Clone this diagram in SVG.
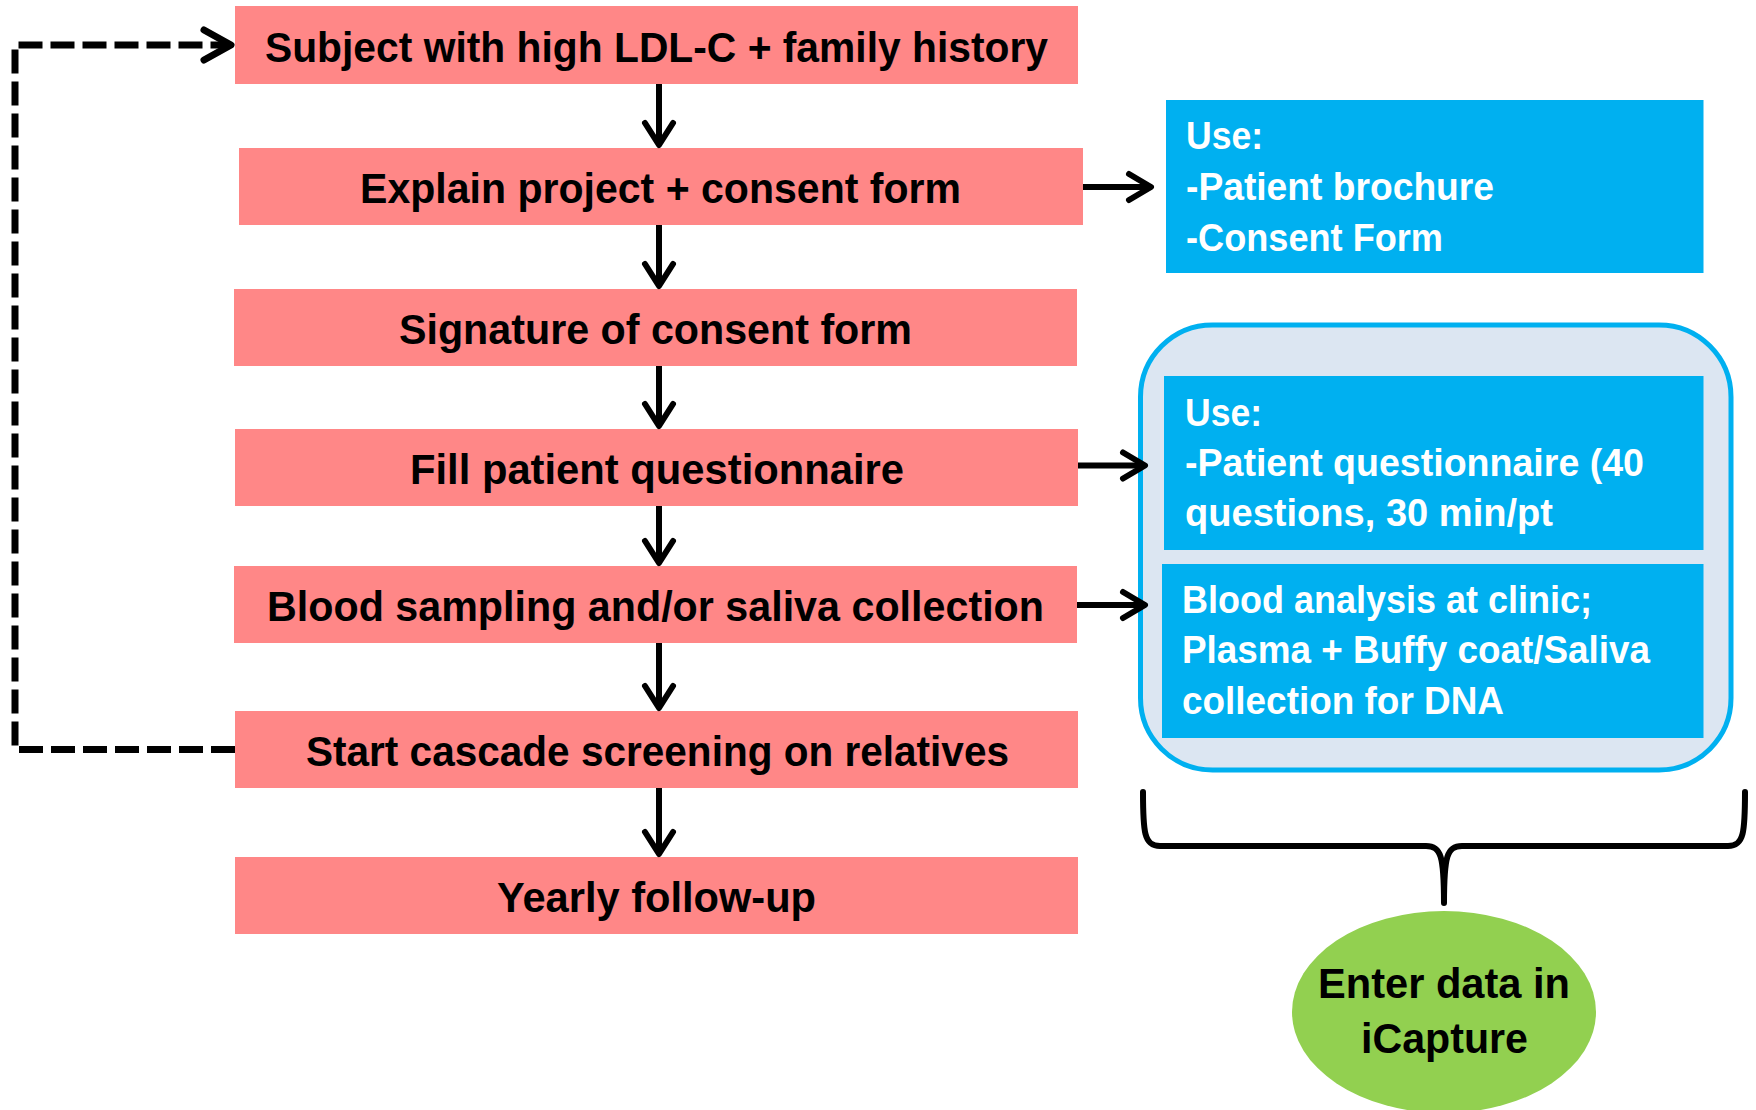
<svg xmlns="http://www.w3.org/2000/svg" width="1756" height="1110" viewBox="0 0 1756 1110">
<style>
.pink{fill:#FF8787;}
.blue{fill:#00B0F0;}
.pt{font-family:"Liberation Sans",Arial,sans-serif;font-weight:bold;font-size:43px;fill:#000;text-anchor:middle;}
.bt{font-family:"Liberation Sans",Arial,sans-serif;font-weight:bold;font-size:39px;fill:#fff;}
.ln{stroke:#000;stroke-width:6;fill:none;stroke-linecap:butt;}
.hd{stroke:#000;stroke-width:6;fill:none;stroke-linecap:round;stroke-linejoin:round;}
.dash{stroke:#000;stroke-width:7;fill:none;stroke-dasharray:24 8;}
</style>
<rect width="1756" height="1110" fill="#fff"/>

<g id="container">
<rect x="1140.5" y="325" width="590.5" height="445" rx="72" ry="72" fill="#DCE6F2" stroke="#00B0F0" stroke-width="5"/>
</g>

<g id="n1"><rect class="pink" x="235" y="6" width="843" height="78"/><text class="pt" x="656.5" y="61.5" textLength="783" lengthAdjust="spacingAndGlyphs">Subject with high LDL-C + family history</text></g>
<g id="n2"><rect class="pink" x="239" y="148" width="844" height="77"/><text class="pt" x="660.5" y="203" textLength="601" lengthAdjust="spacingAndGlyphs">Explain project + consent form</text></g>
<g id="n3"><rect class="pink" x="234" y="289" width="843" height="77"/><text class="pt" x="655.5" y="344" textLength="513" lengthAdjust="spacingAndGlyphs">Signature of consent form</text></g>
<g id="n4"><rect class="pink" x="235" y="429" width="843" height="77"/><text class="pt" x="657" y="484" textLength="494" lengthAdjust="spacingAndGlyphs">Fill patient questionnaire</text></g>
<g id="n5"><rect class="pink" x="234" y="566" width="843" height="77"/><text class="pt" x="655.5" y="621" textLength="777" lengthAdjust="spacingAndGlyphs">Blood sampling and/or saliva collection</text></g>
<g id="n6"><rect class="pink" x="235" y="711" width="843" height="77"/><text class="pt" x="657.5" y="766" textLength="703" lengthAdjust="spacingAndGlyphs">Start cascade screening on relatives</text></g>
<g id="n7"><rect class="pink" x="235" y="857" width="843" height="77"/><text class="pt" x="656.5" y="912" textLength="319" lengthAdjust="spacingAndGlyphs">Yearly follow-up</text></g>

<g id="b1"><rect class="blue" x="1166" y="100" width="537.5" height="173"/>
<text class="bt" x="1186" y="149" textLength="77" lengthAdjust="spacingAndGlyphs">Use:</text>
<text class="bt" x="1186" y="200" textLength="308" lengthAdjust="spacingAndGlyphs">-Patient brochure</text>
<text class="bt" x="1186" y="251" textLength="257" lengthAdjust="spacingAndGlyphs">-Consent Form</text></g>

<g id="b2"><rect class="blue" x="1164" y="376" width="539.5" height="174"/>
<text class="bt" x="1185" y="426" textLength="77" lengthAdjust="spacingAndGlyphs">Use:</text>
<text class="bt" x="1185" y="476" textLength="459" lengthAdjust="spacingAndGlyphs">-Patient questionnaire (40</text>
<text class="bt" x="1185" y="526" textLength="368" lengthAdjust="spacingAndGlyphs">questions, 30 min/pt</text></g>

<g id="b3"><rect class="blue" x="1162" y="564" width="541.5" height="174"/>
<text class="bt" x="1182" y="613" textLength="410" lengthAdjust="spacingAndGlyphs">Blood analysis at clinic;</text>
<text class="bt" x="1182" y="663" textLength="468" lengthAdjust="spacingAndGlyphs">Plasma + Buffy coat/Saliva</text>
<text class="bt" x="1182" y="714" textLength="322" lengthAdjust="spacingAndGlyphs">collection for DNA</text></g>

<g id="brace">
<path d="M1143,792 C1143,832 1144,846 1160,846 L1426,846 C1441,846 1444,856 1444,903 C1444,856 1447,846 1462,846 L1728,846 C1744,846 1745,832 1745,792" fill="none" stroke="#000" stroke-width="6" stroke-linecap="round" stroke-linejoin="round"/>
</g>

<g id="icapture">
<ellipse cx="1444" cy="1012" rx="152" ry="101" fill="#92D050"/>
<text class="pt" x="1444" y="998" textLength="252" lengthAdjust="spacingAndGlyphs">Enter data in</text>
<text class="pt" x="1444.5" y="1053" textLength="167" lengthAdjust="spacingAndGlyphs">iCapture</text>
</g>

<g id="connectors">
<line class="ln" x1="659" y1="84" x2="659" y2="145"/><polyline class="hd" points="645,123 659,145 673,123"/>
<line class="ln" x1="659" y1="225" x2="659" y2="286"/><polyline class="hd" points="645,264 659,286 673,264"/>
<line class="ln" x1="659" y1="366" x2="659" y2="426"/><polyline class="hd" points="645,404 659,426 673,404"/>
<line class="ln" x1="659" y1="506" x2="659" y2="563"/><polyline class="hd" points="645,541 659,563 673,541"/>
<line class="ln" x1="659" y1="643" x2="659" y2="708"/><polyline class="hd" points="645,686 659,708 673,686"/>
<line class="ln" x1="659" y1="788" x2="659" y2="854"/><polyline class="hd" points="645,832 659,854 673,832"/>

<line class="ln" x1="1083" y1="187" x2="1151" y2="187"/><polyline class="hd" points="1129,174 1151,187 1129,200"/>
<line class="ln" x1="1078" y1="465.5" x2="1145" y2="465.5"/><polyline class="hd" points="1123,452.5 1145,465.5 1123,478.5"/>
<line class="ln" x1="1077" y1="605" x2="1145" y2="605"/><polyline class="hd" points="1123,592 1145,605 1123,618"/>

<path class="dash" d="M235,749.5 L15,749.5 L15,45 L228,45"/>
<polyline points="204,30 231,45 204,60" fill="none" stroke="#000" stroke-width="7" stroke-linecap="round" stroke-linejoin="round"/>
</g>
</svg>
